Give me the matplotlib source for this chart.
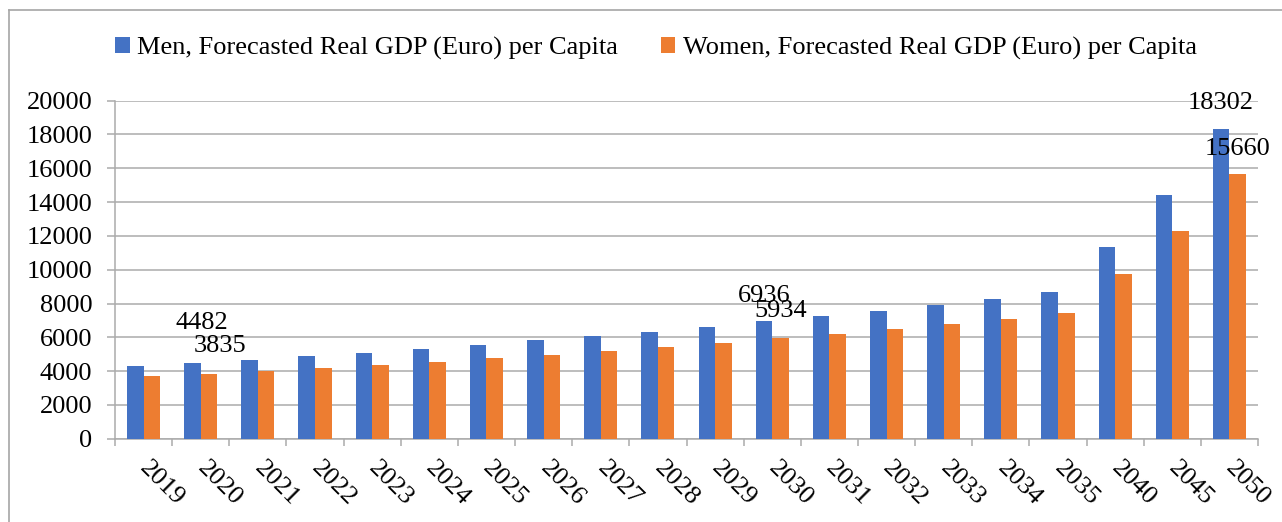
import matplotlib
matplotlib.use("Agg")
import matplotlib.pyplot as plt
from matplotlib.lines import Line2D
import numpy as np

years = ["2019", "2020", "2021", "2022", "2023", "2024", "2025", "2026", "2027", "2028",
         "2029", "2030", "2031", "2032", "2033", "2034", "2035", "2040", "2045", "2050"]
men = [4304, 4482, 4679, 4876, 5093, 5330, 5567, 5824, 6061, 6317,
       6613, 6936, 7245, 7581, 7916, 8291, 8706, 11371, 14411, 18302]
women = [3692, 3835, 4007, 4185, 4363, 4560, 4758, 4975, 5192, 5409,
         5666, 5934, 6179, 6495, 6771, 7067, 7462, 9732, 12318, 15660]
men_name = "Men, Forecasted Real GDP (Euro) per Capita"
women_name = "Women, Forecasted Real GDP (Euro) per Capita"
labelled_years = ["2020", "2030", "2050"]
y_ticks = [0, 2000, 4000, 6000, 8000, 10000, 12000, 14000, 16000, 18000, 20000]

BLUE = "#4472C4"
ORANGE = "#ED7D31"
GRID = "#ababab"
FONT = "Liberation Serif"
FS = 19

plt.rcParams["font.family"] = [FONT, "DejaVu Serif"]

fig = plt.figure(figsize=(12.82, 5.22), dpi=100)
W, H = 1282, 522
ax = fig.add_axes([115 / W, 1 - 438.7 / H, (1258 - 115) / W, (438.7 - 100.7) / H])

x = np.arange(len(years))
bw = 0.29
ax.bar(x - bw / 2, men, bw, color=BLUE, label=men_name, zorder=3)
ax.bar(x + bw / 2, women, bw, color=ORANGE, label=women_name, zorder=3)

ax.set_xlim(-0.5, len(years) - 0.5)
ax.set_ylim(0, 20000)
ax.set_yticks(y_ticks)
ax.set_yticklabels([str(v) for v in y_ticks])
ax.yaxis.grid(True, color=GRID, lw=1.1, zorder=0)
ax.set_axisbelow(True)

for s in ["top", "right"]:
    ax.spines[s].set_visible(False)
for s in ["left", "bottom"]:
    ax.spines[s].set_color(GRID)
    ax.spines[s].set_linewidth(1.1)

ax.set_xticks(x)
ax.set_xticklabels(years)
ax.set_xticks(np.arange(len(years) + 1) - 0.5, minor=True)
ax.tick_params(axis="x", which="major", length=0, pad=18.7, labelsize=FS)
ax.tick_params(axis="x", which="minor", length=5, color=GRID, width=1.1)
ax.tick_params(axis="y", length=5.8, color=GRID, width=1.1, pad=10.5, labelsize=FS)
for lab in ax.get_xticklabels():
    lab.set_rotation(-45)
    lab.set_ha("left")
    lab.set_va("center")
    lab.set_rotation_mode("anchor")

# data labels (offsets in points)
offsets = {
    "2020": ((7, 29), (8, 20)),
    "2030": ((0, 18.5), (0, 19.5)),
    "2050": ((0, 18.7), (0, 18)),
}
for yr in labelled_years:
    i = years.index(yr)
    (mdx, mdy), (wdx, wdy) = offsets[yr]
    ax.annotate(str(men[i]), (x[i] - bw / 2, men[i]), xytext=(mdx, mdy),
                textcoords="offset points", ha="center", va="center",
                fontsize=FS, zorder=5, annotation_clip=False)
    ax.annotate(str(women[i]), (x[i] + bw / 2, women[i]), xytext=(wdx, wdy),
                textcoords="offset points", ha="center", va="center",
                fontsize=FS, zorder=5, annotation_clip=False)

fig.legend(loc="center", bbox_to_anchor=(656 / W, 1 - 48 / H), ncol=2,
           frameon=False, fontsize=FS, handlelength=0.55, handleheight=0.55,
           handletextpad=0.3, columnspacing=1.6)

# outer chart frame (top and left visible)
fig.add_artist(Line2D([9 / W, 9 / W], [0, 1 - 10 / H], transform=fig.transFigure,
                      color="#a6a6a6", lw=1.2))
fig.add_artist(Line2D([9 / W, 1], [1 - 10 / H, 1 - 10 / H], transform=fig.transFigure,
                      color="#a6a6a6", lw=1.2))

fig.savefig("out.png", dpi=100)
